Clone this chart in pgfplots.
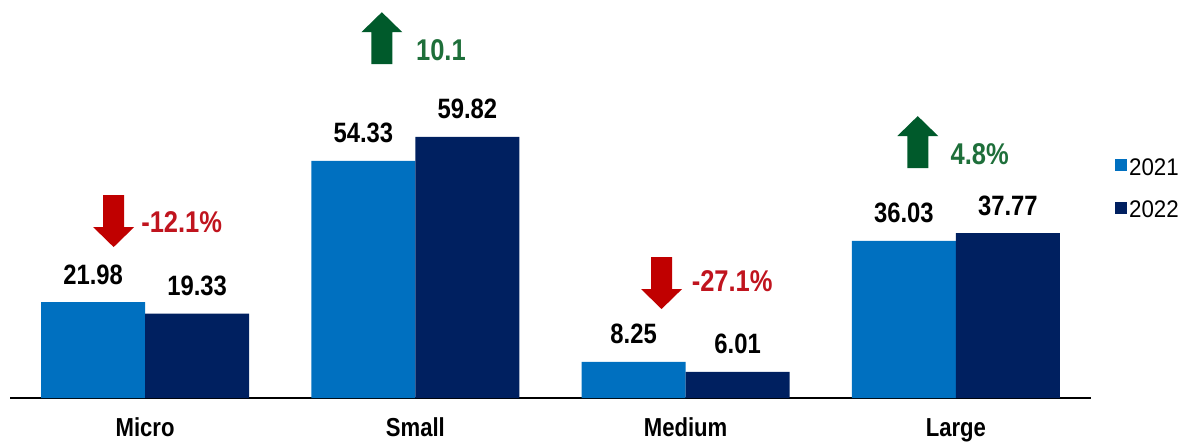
\documentclass[border=0pt]{standalone}
\usepackage{fontspec}
\setmainfont{Liberation Sans}[FakeStretch=0.85]
\newfontfamily\legfam{Liberation Sans}[FakeStretch=0.93]
\usepackage{pgfplots}
\pgfplotsset{compat=1.18}

\definecolor{c2021}{HTML}{0070C0}
\definecolor{c2022}{HTML}{002060}
\definecolor{upg}{HTML}{005A2B}
\definecolor{upt}{HTML}{1E6F3A}
\definecolor{dnr}{HTML}{C00000}
\definecolor{dnt}{HTML}{C0141E}

\newcommand{\labfont}{\bfseries\fontsize{28bp}{30bp}\selectfont}
\newcommand{\chgfont}{\bfseries\fontsize{30bp}{32bp}\selectfont}
\newcommand{\catfont}{\bfseries\fontsize{26bp}{28bp}\selectfont}
\newcommand{\legfont}{\legfam\fontsize{24bp}{26bp}\selectfont}

% arrows: x, y of the top end (down) or tip (up)
\newcommand{\dnarr}[2]{\fill[dnr] (axis cs:#1,#2) ++(-10.5bp,0bp) -- ++(21bp,0bp) -- ++(0bp,-32bp) -- ++(10bp,0bp) -- ++(-20.5bp,-20bp) -- ++(-20.5bp,20bp) -- ++(10bp,0bp) -- cycle;}
\newcommand{\uparr}[2]{\fill[upg] (axis cs:#1,#2) -- ++(20.5bp,-20bp) -- ++(-10bp,0bp) -- ++(0bp,-32bp) -- ++(-21bp,0bp) -- ++(0bp,32bp) -- ++(-10bp,0bp) -- cycle;}

\begin{document}
\begin{tikzpicture}
\begin{axis}[
  at={(10bp,45bp)}, anchor=south west,
  scale only axis, width=1081bp, height=398bp,
  xmin=-0.5, xmax=3.5, ymin=0, ymax=91.2,
  axis y line=none, axis x line*=bottom,
  x axis line style={line width=2bp, black},
  xtick={0,1,2,3}, xticklabels={Micro,Small,Medium,Large},
  major tick length=0pt, ytick=\empty,
  xticklabel style={font=\catfont, anchor=base, yshift=-38.6bp},
  ybar=0pt, bar width=104bp,
  clip=false,
  nodes near coords={\pgfmathprintnumber[fixed,fixed zerofill,precision=2,assume math mode=true]{\pgfplotspointmeta}},
  every node near coord/.append style={font=\labfont, text=black, anchor=base, yshift=18bp},
  legend style={at={(axis description cs:1.0194,0.525)}, anchor=west,
    draw=none, fill=none, font=\legfont, row sep=20bp,
    /tikz/every even column/.append style={column sep=6bp}},
  legend cell align=left,
  legend image code/.code={\fill[#1,draw=none] (0bp,-3.4bp) rectangle (12bp,8.6bp);},
]
\addplot[fill=c2021, draw=none] coordinates {(0,21.98) (1,54.33) (2,8.25) (3,36.03)};
\addplot[fill=c2022, draw=none] coordinates {(0,19.33) (1,59.82) (2,6.01) (3,37.77)};
\legend{2021,2022}

\dnarr{-0.1165}{46.5}
\uparr{0.876}{88.4}
\dnarr{1.911}{32.3}
\uparr{2.859}{64.6}
\node[anchor=base west, font=\chgfont, text=dnt, inner sep=0pt] at (axis cs:-0.015,38.0) {-12.1\%};
\node[anchor=base west, font=\chgfont, text=upt, inner sep=0pt] at (axis cs:1.002,77.4) {10.1};
\node[anchor=base west, font=\chgfont, text=dnt, inner sep=0pt] at (axis cs:2.022,24.3) {-27.1\%};
\node[anchor=base west, font=\chgfont, text=upt, inner sep=0pt] at (axis cs:2.98,53.4) {4.8\%};
\end{axis}
\pgfresetboundingbox
\path[use as bounding box] (0,0) rectangle (1182bp,443bp);
\end{tikzpicture}
\end{document}
